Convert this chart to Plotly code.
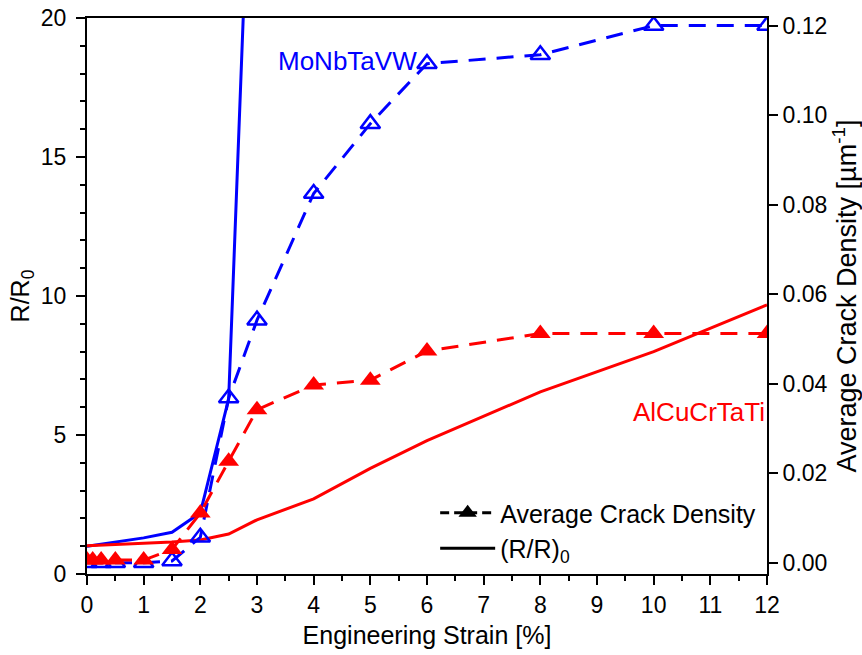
import plotly.graph_objects as go

# Engineering strain [%] and measured quantities
strain_crack_mo = [0, 0.25, 0.5, 1, 1.5, 2, 2.5, 3, 4, 5, 6, 8, 10, 12]
crack_mo = [0.0, 0.0, 0.0, 0.0, 0.0004, 0.0057, 0.0368, 0.0542, 0.0825,
            0.0981, 0.1115, 0.1135, 0.1200, 0.1200]

strain_crack_al = [0, 0.1, 0.25, 0.5, 1, 1.5, 2, 2.5, 3, 4, 5, 6, 8, 10, 12]
crack_al = [0.0006, 0.0006, 0.0006, 0.0006, 0.0006, 0.0030, 0.0111, 0.0227,
            0.0342, 0.0397, 0.0408, 0.0473, 0.0512, 0.0512, 0.0512]

strain_res_mo = [0, 1, 1.5, 2, 2.5, 3]
res_mo = [1.0, 1.3, 1.5, 2.2, 6.3, 33.0]

strain_res_al = [0, 1, 1.5, 2, 2.5, 3, 4, 5, 6, 8, 10, 12]
res_al = [1.02, 1.1, 1.15, 1.22, 1.44, 1.95, 2.7, 3.8, 4.8, 6.55, 8.0, 9.68]

BLUE = "#0000FF"
RED = "#FF0000"
FONT = "Arial, 'Liberation Sans', sans-serif"
DASH = "17px,11px"

fig = go.Figure()

# Resistance ratio (left axis)
fig.add_trace(go.Scatter(x=strain_res_mo, y=res_mo, mode="lines",
                         line=dict(color=BLUE, width=3), showlegend=False))
fig.add_trace(go.Scatter(x=strain_res_al, y=res_al, mode="lines",
                         line=dict(color=RED, width=3), showlegend=False))

# Crack density (right axis)
fig.add_trace(go.Scatter(x=strain_crack_mo, y=crack_mo, yaxis="y2",
                         mode="lines+markers",
                         line=dict(color=BLUE, width=3, dash=DASH),
                         marker=dict(symbol="triangle-up-open", size=17,
                                     color=BLUE, line=dict(width=2.5, color=BLUE)),
                         showlegend=False))
fig.add_trace(go.Scatter(x=strain_crack_al, y=crack_al, yaxis="y2",
                         mode="lines+markers",
                         line=dict(color=RED, width=3, dash=DASH),
                         marker=dict(symbol="triangle-up", size=18, color=RED),
                         showlegend=False))

# Legend entries
fig.add_trace(go.Scatter(x=[None], y=[None], mode="lines+markers",
                         name="Average Crack Density",
                         line=dict(color="black", width=3, dash="9px,5px"),
                         marker=dict(symbol="triangle-up", size=18, color="black")))
fig.add_trace(go.Scatter(x=[None], y=[None], mode="lines",
                         name="(R/R)<sub>0</sub>",
                         line=dict(color="black", width=3)))

axis_common = dict(showline=True, linecolor="black", linewidth=2,
                   ticks="outside", tickcolor="black", tickwidth=1.5,
                   ticklen=9, showgrid=False, zeroline=False, automargin=False,
                   tickfont=dict(family=FONT, size=23, color="black"))

fig.update_layout(
    width=862, height=655,
    margin=dict(l=87, r=95, t=18, b=81),
    plot_bgcolor="white", paper_bgcolor="white",
    font=dict(family=FONT, color="black"),
    xaxis=dict(range=[0, 12], dtick=1, mirror=True,
               minor=dict(dtick=0.5, ticklen=5, tickcolor="black", ticks="outside"),
               title=dict(text="Engineering Strain [%]",
                          font=dict(family=FONT, size=25), standoff=10),
               **axis_common),
    yaxis=dict(range=[0, 20], dtick=5, ticklabelstandoff=5,
               minor=dict(dtick=1, ticklen=5, tickcolor="black", ticks="outside"),
               title=dict(text="R/R<sub>0</sub>",
                          font=dict(family=FONT, size=25), standoff=4),
               **axis_common),
    yaxis2=dict(range=[-0.0025, 0.1217], overlaying="y", side="right",
                tickvals=[0, 0.02, 0.04, 0.06, 0.08, 0.10, 0.12],
                tickformat=".2f",
                title=dict(text="Average Crack Density [µm<sup>-1</sup>]",
                           font=dict(family=FONT, size=27), standoff=5),
                **axis_common),
    legend=dict(x=0.512, y=0.151, xanchor="left", yanchor="top",
                bgcolor="rgba(0,0,0,0)", borderwidth=0, itemwidth=55,
                font=dict(family=FONT, size=25, color="black")),
    annotations=[
        dict(x=4.6, y=0.112, xref="x", yref="y2", text="MoNbTaVW",
             showarrow=False, xanchor="center", yanchor="middle",
             font=dict(family=FONT, size=26, color=BLUE)),
        dict(x=10.8, y=0.0337, xref="x", yref="y2", text="AlCuCrTaTi",
             showarrow=False, xanchor="center", yanchor="middle",
             font=dict(family=FONT, size=26, color=RED)),
    ],
)

fig.write_html("out.html")
